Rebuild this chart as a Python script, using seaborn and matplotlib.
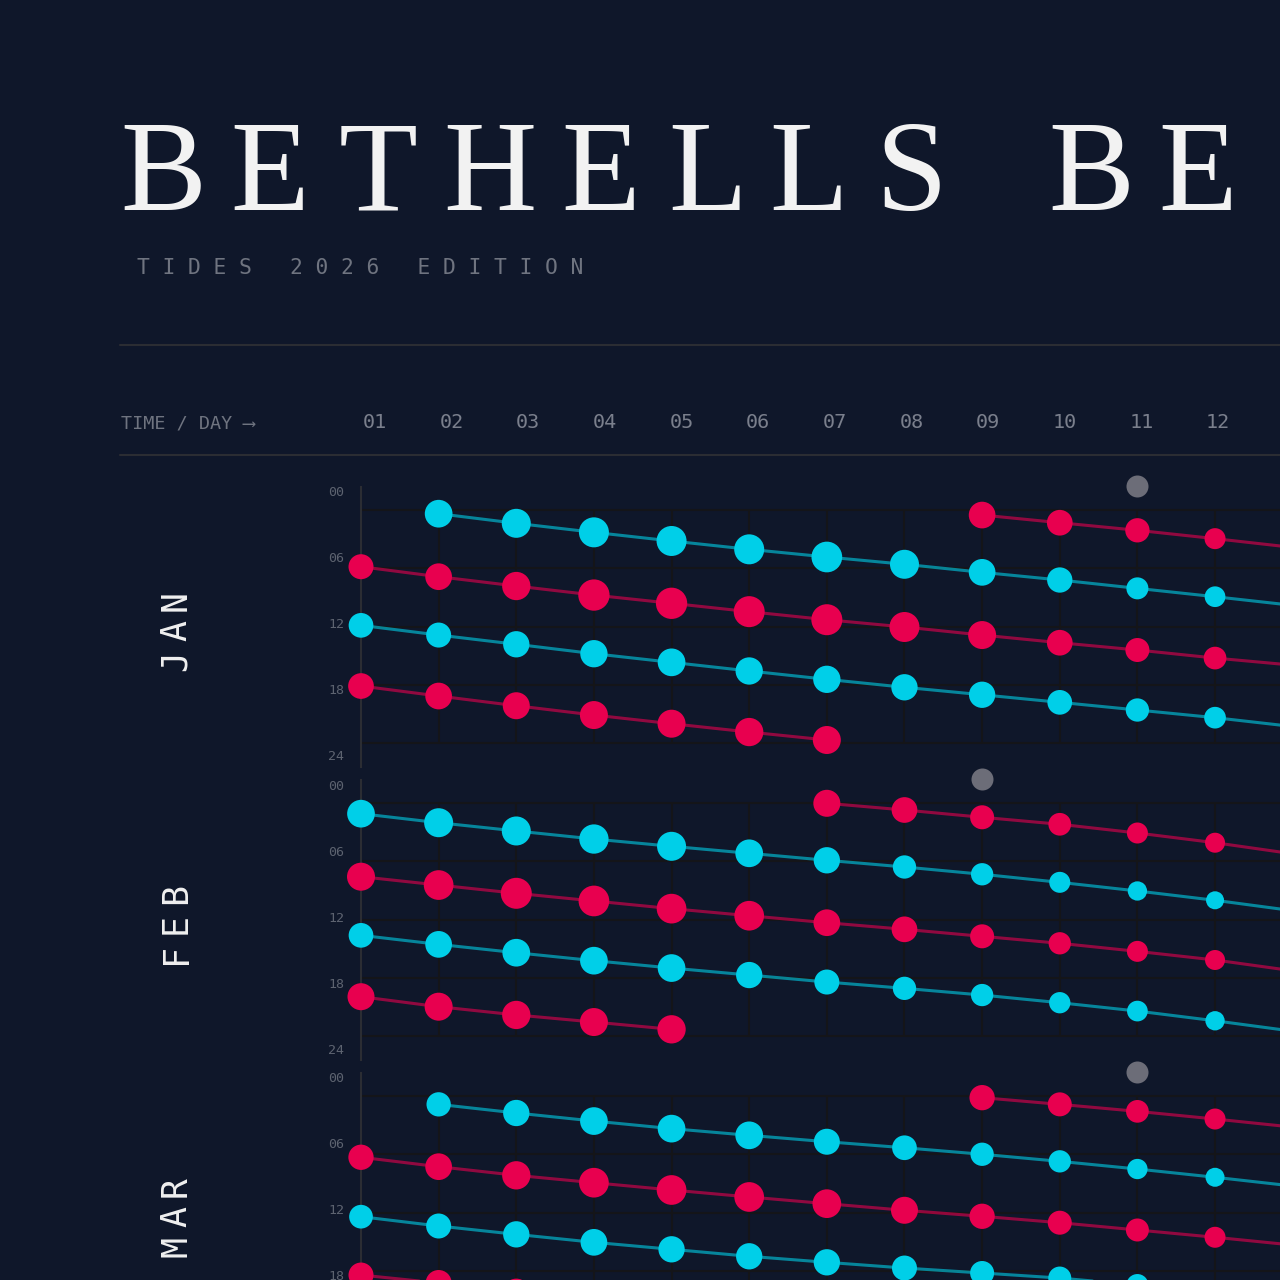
import pandas as pd
import seaborn as sns
import matplotlib.pyplot as plt
from matplotlib.lines import Line2D

# colours
BG = "#0f172a"
HIGH = "#00cfe8"
LOW = "#e8004f"
MOON = "#6c6d78"
GRID = "#141519"
SPINE = "#2b2d33"
MUTED = "#6f7480"

# ---- data: tide times (hour of day) and tidal range (m) per tide line ----
months = ["JAN", "FEB", "MAR"]
day_labels = ["01", "02", "03", "04", "05", "06", "07", "08", "09", "10", "11", "12"]
hour_labels = ["00", "06", "12", "18", "24"]
moon_days = [11, 9, 11]

# JAN
jan_high_a_hour = [0.38, 1.37, 2.30, 3.19, 4.05, 4.84, 5.59, 6.42, 7.21, 8.07, 8.93, 9.82]
jan_high_a_range = [2.77, 2.90, 3.00, 3.00, 3.00, 3.07, 2.90, 2.67, 2.53, 2.20, 2.07, 1.95]
jan_low_a_hour = [0.52, 1.31, 2.09, 2.95, 3.85]
jan_low_a_range = [2.67, 2.57, 2.43, 2.10, 2.00]
jan_low_b_hour = [5.84, 6.87, 7.83, 8.76, 9.61, 10.47, 11.30, 12.05, 12.88, 13.67, 14.42, 15.25, 15.98]
jan_low_b_range = [2.50, 2.67, 2.83, 3.13, 3.13, 3.10, 3.10, 3.00, 2.80, 2.57, 2.40, 2.27, 2.15]
jan_high_b_hour = [11.88, 12.88, 13.83, 14.80, 15.69, 16.58, 17.44, 18.26, 19.03, 19.81, 20.60, 21.39, 22.30]
jan_high_b_range = [2.47, 2.50, 2.63, 2.73, 2.77, 2.73, 2.73, 2.63, 2.63, 2.47, 2.33, 2.17, 2.05]
jan_low_c_hour = [18.13, 19.16, 20.16, 21.12, 22.01, 22.87, 23.69]
jan_low_c_range = [2.57, 2.67, 2.70, 2.80, 2.80, 2.83, 2.80]

# FEB
feb_low_a_hour = [0.03, 0.72, 1.47, 2.19, 3.09, 4.09, 5.23]
feb_low_a_range = [2.70, 2.57, 2.40, 2.27, 2.10, 2.00, 1.90]
feb_high_a_hour = [1.10, 2.03, 2.88, 3.71, 4.46, 5.18, 5.90, 6.59, 7.34, 8.17, 9.06, 10.02, 11.09]
feb_high_a_range = [2.77, 2.90, 2.90, 2.93, 2.90, 2.77, 2.63, 2.33, 2.23, 2.10, 1.93, 1.80, 1.70]
feb_low_b_hour = [7.59, 8.45, 9.30, 10.09, 10.88, 11.61, 12.33, 13.01, 13.73, 14.45, 15.28, 16.17, 17.28]
feb_low_b_range = [2.80, 2.97, 3.10, 3.07, 2.97, 2.97, 2.67, 2.57, 2.40, 2.23, 2.10, 2.00, 1.90]
feb_high_b_hour = [13.63, 14.56, 15.42, 16.24, 17.00, 17.72, 18.44, 19.09, 19.78, 20.57, 21.43, 22.43, 23.50]
feb_high_b_range = [2.47, 2.67, 2.77, 2.77, 2.77, 2.63, 2.50, 2.33, 2.23, 2.13, 2.07, 1.93, 1.85]
feb_low_c_hour = [19.95, 20.98, 21.83, 22.56, 23.31]
feb_low_c_range = [2.70, 2.80, 2.83, 2.80, 2.83]

# MAR
mar_high_a_hour = [0.86, 1.75, 2.58, 3.36, 4.05, 4.71, 5.33, 6.00, 6.73, 7.52, 8.37, 9.27]
mar_high_a_range = [2.43, 2.63, 2.77, 2.77, 2.77, 2.60, 2.47, 2.33, 2.23, 2.03, 1.90, 1.80]
mar_low_a_hour = [0.17, 0.86, 1.58, 2.37, 3.20]
mar_low_a_range = [2.53, 2.40, 2.27, 2.10, 2.00]
mar_low_b_hour = [6.31, 7.28, 8.17, 8.93, 9.68, 10.40, 11.09, 11.77, 12.39, 13.05, 13.80, 14.55, 15.35]
mar_low_b_range = [2.53, 2.67, 2.83, 2.97, 2.97, 2.97, 2.87, 2.70, 2.53, 2.40, 2.30, 2.10, 2.00]
mar_high_b_hour = [12.43, 13.39, 14.25, 15.07, 15.79, 16.51, 17.13, 17.72, 18.23, 18.75, 19.47, 20.20, 20.90]
mar_high_b_range = [2.37, 2.50, 2.63, 2.67, 2.63, 2.63, 2.63, 2.50, 2.40, 2.30, 2.20, 2.10, 2.00]
mar_low_c_hour = [18.44, 19.26, 20.20]
mar_low_c_range = [2.50, 2.60, 2.70]

# (month, tide kind, first day, hours, ranges)
tide_lines = [
    ("JAN", "high", 2, jan_high_a_hour, jan_high_a_range),
    ("JAN", "low", 9, jan_low_a_hour, jan_low_a_range),
    ("JAN", "low", 1, jan_low_b_hour, jan_low_b_range),
    ("JAN", "high", 1, jan_high_b_hour, jan_high_b_range),
    ("JAN", "low", 1, jan_low_c_hour, jan_low_c_range),
    ("FEB", "low", 7, feb_low_a_hour, feb_low_a_range),
    ("FEB", "high", 1, feb_high_a_hour, feb_high_a_range),
    ("FEB", "low", 1, feb_low_b_hour, feb_low_b_range),
    ("FEB", "high", 1, feb_high_b_hour, feb_high_b_range),
    ("FEB", "low", 1, feb_low_c_hour, feb_low_c_range),
    ("MAR", "high", 2, mar_high_a_hour, mar_high_a_range),
    ("MAR", "low", 9, mar_low_a_hour, mar_low_a_range),
    ("MAR", "low", 1, mar_low_b_hour, mar_low_b_range),
    ("MAR", "high", 1, mar_high_b_hour, mar_high_b_range),
    ("MAR", "low", 1, mar_low_c_hour, mar_low_c_range),
]

rows = []
for line_id, (month, kind, first, hours, ranges) in enumerate(tide_lines):
    for i, (h, r) in enumerate(zip(hours, ranges)):
        rows.append({"month": month, "kind": kind, "line": line_id,
                     "day": first + i, "hour": h, "range_m": r})
tides = pd.DataFrame(rows)

# marker diameter in px = 10 * range, area in pt^2 at 100 dpi
size_map = {r: (0.72 * 10 * r) ** 2 for r in tides["range_m"].unique()}
palette = {"high": HIGH, "low": LOW}

# ---- figure ----
sns.set_theme(style="dark", rc={"axes.facecolor": BG, "figure.facecolor": BG})
plt.rcParams["font.family"] = ["DejaVu Sans Mono", "DejaVu Sans"]

W = 1280
fig = plt.figure(figsize=(12.8, 12.8), dpi=100, facecolor=BG)


def fx(px):
    return px / W


def fy(py):
    return 1 - py / W


# title, letter by letter with wide tracking (runs off the right edge like the poster)
title = "BETHELLSBEACH"
title_x = [163, 270, 378, 490, 601, 708, 809, 911, 1091, 1198, 1325, 1440, 1550]
for ch, x in zip(title, title_x):
    fig.text(fx(x), fy(210), ch, ha="center", va="baseline", fontsize=93,
             color="#f2f2f2", family="Liberation Serif")

fig.text(fx(137), fy(268), "T I D E S   2 0 2 6   E D I T I O N", ha="left", va="center",
         fontsize=15.3, color=MUTED, family="DejaVu Sans Mono")

for y in (345, 455):
    fig.add_artist(Line2D([fx(120), 1.0], [fy(y), fy(y)], color=SPINE, lw=1.5,
                          transform=fig.transFigure))

fig.text(fx(121), fy(423), "TIME / DAY \u27f6", ha="left", va="center", fontsize=13.3,
         color=MUTED, family=["DejaVu Sans Mono", "DejaVu Sans"])
for i, lab in enumerate(day_labels):
    fig.text(fx(375 + i * 76.64), fy(423), lab, ha="center", va="center",
             fontsize=14.5, color="#7a7f8c")

# ---- month panels ----
PX_DAY = 77.64
AX_LEFT = 361
DAY_MAX = 14

for m, month in enumerate(months):
    top0 = 510 + m * 293          # pixel row of hour 0
    ax_top = top0 - 23
    ax_h = 280
    ax = fig.add_axes([fx(AX_LEFT), fy(ax_top + ax_h), (DAY_MAX - 1) * PX_DAY / W, ax_h / W])
    ax.set_facecolor("none")

    ax.hlines([0, 6, 12, 18, 24], 1, DAY_MAX, color=GRID, lw=1.5, zorder=1)
    ax.vlines(range(2, DAY_MAX + 1), 0, 24, color=GRID, lw=1.5, zorder=1)

    sub = tides[tides["month"] == month]
    sns.scatterplot(data=sub, x="day", y="hour", hue="kind", palette=palette,
                    size="range_m", sizes=size_map, linewidth=0, legend=False,
                    ax=ax, zorder=3, clip_on=False)
    sns.lineplot(data=sub, x="day", y="hour", hue="kind", palette=palette,
                 units="line", estimator=None, sort=False, lw=2.2, alpha=0.6,
                 legend=False, ax=ax, zorder=4)
    sns.scatterplot(x=[moon_days[m]], y=[-2.45], color=MOON, s=(0.72 * 22) ** 2,
                    linewidth=0, ax=ax, zorder=3, clip_on=False)

    ax.set_xlim(1, DAY_MAX)
    ax.set_ylim(26.47, -2.37)
    ax.set(xlabel="", ylabel="", xticks=[], yticks=[])
    for side in ("top", "right", "bottom"):
        ax.spines[side].set_visible(False)
    ax.spines["left"].set_color(SPINE)
    ax.spines["left"].set_linewidth(1.5)

    for i, lab in enumerate(hour_labels):
        fig.text(fx(344), fy(ax_top + 6 + i * 66), lab, ha="right", va="center",
                 fontsize=9.5, color="#5d6370")

    center = ax_top + 144
    for j, ch in enumerate(month):
        fig.text(fx(176), fy(center + (1 - j) * 30), ch, ha="center", va="center",
                 rotation=90, fontsize=25, color="#f0f0f0")

fig.savefig("out.png", dpi=100, facecolor=BG)
